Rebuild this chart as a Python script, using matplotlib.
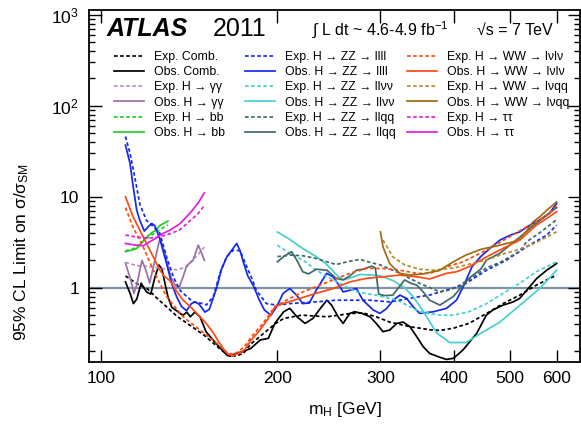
import math
import matplotlib
matplotlib.use("Agg")
import matplotlib.pyplot as plt
from matplotlib.legend import Legend
from matplotlib.ticker import FixedLocator, NullLocator, LogLocator, FuncFormatter

plt.rcParams['font.family'] = ['Liberation Sans', 'DejaVu Sans']
plt.rcParams['mathtext.fontset'] = 'custom'
plt.rcParams['mathtext.rm'] = 'Liberation Sans'
plt.rcParams['mathtext.it'] = 'Liberation Sans:italic'
plt.rcParams['mathtext.bf'] = 'Liberation Sans:bold'
plt.rcParams['lines.scale_dashes'] = False

# ---------------- data (mH in GeV, 95% CL limit on sigma/sigma_SM) -------------
comb_obs_m = [110,112,113.5,115,117,119.5,121.5,123.5,125.5,127,128.5,130,132,134.5,136.5,138,140,142,144.5,147.5,
              151,155,160,164,166,170,175,180,187,193,198,205,210,216,223,230,238,243,247.5,254,
              259,266,271,279,288,295,303,311,320,328,337,346,355,364,379,389,400,415,438,455,
              467,486,506,519,540,555,577,600]
comb_obs_v = [1.16,0.87,0.67,0.75,1.12,0.9,0.85,1.3,1.78,1.6,1.12,0.8,0.61,0.56,0.52,0.5,0.54,0.48,0.54,0.48,
              0.33,0.27,0.215,0.182,0.177,0.19,0.2,0.215,0.267,0.278,0.406,0.545,0.594,0.48,0.406,0.46,0.618,0.73,0.645,0.48,
              0.406,0.523,0.545,0.523,0.48,0.406,0.329,0.343,0.406,0.42,0.373,0.29,0.225,0.19,0.172,0.163,0.168,0.207,0.315,0.5,
              0.57,0.645,0.70,0.765,1.03,1.27,1.56,1.85]
comb_exp_m = [110,113,116,120,125,130,135,140,145,150,155,160,165,170,175,180,190,198,205,220,243,266,280,295,311,337,
              350,365,380,400,425,455,486,519,554,600]
comb_exp_v = [1.35,1.2,1.08,0.97,0.75,0.6,0.48,0.41,0.35,0.3,0.25,0.21,0.18,0.178,0.19,0.24,0.32,0.40,0.46,0.50,0.48,0.52,
              0.53,0.48,0.42,0.373,0.36,0.345,0.34,0.36,0.406,0.52,0.67,0.83,1.07,1.38]

gg_obs_m = [110,112.4,113.7,115,117.4,119.2,121,123.5,126,128.5,131.5,134,136,138,140,143.5,146.5,148.5,150]
gg_obs_v = [1.87,1.2,0.87,1.07,2.0,1.56,1.13,2.0,3.5,2.35,1.31,1.05,1.03,1.32,1.75,2.0,2.94,2.4,2.0]
gg_exp_m = [110,115,120,125,130,135,140,143.6,147,150]
gg_exp_v = [1.9,1.75,1.72,1.65,1.6,1.58,1.7,2.05,2.4,2.8]

bb_obs_m = [110,113,115,117,119,121.5,124,126,130]
bb_obs_v = [2.5,2.6,2.7,3.1,3.5,3.95,4.3,4.85,5.4]
bb_exp_m = [110,113,116,119,122,125,130]
bb_exp_v = [2.55,2.65,2.95,3.4,3.8,4.2,4.9]

zz4l_obs_m = [110,112,113.4,115,116.4,118.5,120,122,123.5,126,129.3,131.9,134.5,137.2,139.9,142.6,144.6,147,150.4,153,
              157.5,160.5,164,168,170.4,172.7,175,178,182,186,190,195,199.4,204.6,210,215.7,221,226.7,233,242.7,
              249,255.7,259,266,273,280,291.6,299.3,307.3,315.4,323.8,332.4,341.2,350,369.4,389,404.6,415.5,430,444.7,
              461.5,480,500,519,540,561,583,600]
zz4l_obs_v = [37,23.3,12.9,7.1,5.5,4.2,4.6,5.1,4.8,3.4,1.85,1.12,0.80,0.62,0.56,0.67,0.70,0.66,0.54,0.58,
              1.0,1.6,2.2,2.71,3.07,2.55,1.9,1.35,1.05,0.75,0.57,0.50,0.62,0.87,0.98,0.83,0.67,0.68,0.94,1.44,
              1.32,1.03,0.90,0.94,0.98,0.73,0.57,0.523,0.59,0.73,0.83,0.765,0.62,0.523,0.545,0.594,0.73,1.03,1.70,2.19,
              2.71,3.34,3.79,4.12,4.88,5.54,6.57,8.45]
zz4l_exp_m = [110,112,114.2,116.4,119.5,122.7,125.9,129.3,132.8,136.3,140,143.6,147.5,151.4,155.4,159.6,163.8,168.2,172.7,177.3,
              181,184,191.5,199.4,210,233,252,273,288,311,337,350,364,379,415.5,455.5,493,533,577,600]
zz4l_exp_v = [46,30,16,8.3,5.5,4.7,4.0,2.19,1.32,0.94,0.80,0.70,0.68,0.65,0.80,1.45,2.19,2.6,2.55,1.70,
              1.25,0.94,0.67,0.645,0.67,0.70,0.73,0.73,0.73,0.70,0.765,0.80,0.83,0.90,1.07,1.56,2.02,2.82,3.79,4.88]

llvv_obs_m = [200,210,221,233,243,252,259,268,277,290,300,315,330,341,352,362,374,394,420,445,480,519,561,600]
llvv_obs_v = [4.1,3.4,2.7,2.2,1.8,1.4,1.22,1.3,1.4,1.38,1.35,1.2,1.0,0.8,0.6,0.45,0.32,0.25,0.25,0.315,0.42,0.64,0.98,1.56]
llvv_exp_m = [200,210,221,233,246,259,273,295,320,337,350,379,400,425,455.5,486,519,554,600]
llvv_exp_v = [2.94,2.39,2.02,1.56,1.27,1.07,0.90,0.83,0.73,0.62,0.545,0.50,0.50,0.545,0.67,0.87,1.12,1.5,1.93]

llqq_obs_m = [200,205,211.5,216,221,226,233,243,252,259,266,273,280,290,294,298,305,315,322,330,
              338,346,355,364,379,399.5,425,445,455.5,480,519,547,577,600]
llqq_obs_v = [1.93,2.2,2.49,2.0,1.5,1.42,1.6,1.56,1.27,1.22,1.35,1.56,1.6,1.73,1.65,0.85,0.82,0.83,1.0,1.22,
              1.12,1.07,0.9,0.73,0.645,0.80,1.27,1.6,2.02,2.4,3.6,4.8,6.3,7.6]
llqq_exp_m = [200,210,221,233,245,252,265,277,288,300,324,350,379,395,410,430,455,480,500,519,533,561,600]
llqq_exp_v = [2.2,2.29,2.25,2.1,1.9,1.8,1.95,2.05,1.9,1.78,1.44,1.12,0.90,0.95,1.07,1.3,1.65,1.9,2.2,2.5,3.2,4.0,5.6]

lvlv_obs_m = [110,113.4,116.4,119.5,122.7,125.9,128,131,134,138,142,147.5,151.4,155.4,159,162,165,168,172,176,
              179.4,186.7,194,198,204.6,218.5,233,249,266,284,303,324,346,364,389,404.6,425,455.5,486,519,554,577,600]
lvlv_obs_v = [10,6.0,4.3,3.07,2.19,1.57,1.35,1.2,0.95,0.73,0.62,0.48,0.40,0.32,0.25,0.21,0.185,0.18,0.19,0.21,
              0.255,0.343,0.48,0.62,0.67,0.765,0.87,0.98,1.16,1.27,1.32,1.38,1.32,1.25,1.44,1.50,1.70,2.19,2.71,3.34,4.88,5.79,6.85]
lvlv_exp_m = [110,113.4,118,122.7,129.3,138,147.5,157.6,163.8,168,172,177,179,183,189,198,204.6,218.5,233,249,
              266,284,303,324,346,364,379,389,415.5,455.5,493,533,561,591,600]
lvlv_exp_v = [7.6,4.6,2.8,1.57,0.80,0.48,0.343,0.245,0.195,0.185,0.2,0.24,0.267,0.32,0.406,0.62,0.70,0.87,1.03,1.22,
              1.44,1.63,1.63,1.56,1.44,1.44,1.56,1.70,1.93,2.6,3.49,4.67,5.54,7.1,7.9]

lvqq_obs_m = [300,303,311,318,324,337,355,379,399.5,420,445,480,506,519,533,547,561,580,600]
lvqq_obs_v = [4.12,2.82,1.85,1.6,1.44,1.38,1.42,1.56,1.93,2.29,2.64,2.94,3.20,3.49,4.2,5.3,6.0,7.3,8.8]
lvqq_exp_m = [303,315,330,350,369,400,430,455,486,519,554,600]
lvqq_exp_v = [3.34,2.19,1.78,1.6,1.56,1.65,1.85,2.02,2.35,2.65,3.15,4.12]

tt_obs_m = [110,114,118,121,124,127,131,136,141.8,146.5,150]
tt_obs_v = [3.07,2.95,2.9,3.2,3.5,3.9,4.3,5.0,6.6,8.6,11.0]
tt_exp_m = [110,115,120,125,130,136,142,146,150]
tt_exp_v = [3.8,3.6,3.5,3.6,3.85,4.3,5.5,6.4,8.0]

x_ticks = [100, 200, 300, 400, 500, 600]

# ---------------- styling ------------------------------------------------------
DASH = (0, (2.6, 1.8))
LW = 1.25
C_BLACK = 'black'
C_GG_E, C_GG_O = '#b98dc4', '#9a72a6'
C_BB = '#22cc22'
C_4L = '#1428f0'
C_LLVV = '#45d0d0'
C_LLQQ = '#3f6a6a'
C_LVLV = '#ff4a14'
C_LVQQ_E, C_LVQQ_O = '#b88a2a', '#a06c10'
C_TT = '#e020e0'

col1 = [
    ("Exp. Comb.", comb_exp_m, comb_exp_v, C_BLACK, DASH),
    ("Obs. Comb.", comb_obs_m, comb_obs_v, C_BLACK, '-'),
    ("Exp. H → γγ", gg_exp_m, gg_exp_v, C_GG_E, DASH),
    ("Obs. H → γγ", gg_obs_m, gg_obs_v, C_GG_O, '-'),
    ("Exp. H → bb", bb_exp_m, bb_exp_v, C_BB, DASH),
    ("Obs. H → bb", bb_obs_m, bb_obs_v, C_BB, '-'),
]
col2 = [
    ("Exp. H → ZZ → llll", zz4l_exp_m, zz4l_exp_v, C_4L, DASH),
    ("Obs. H → ZZ → llll", zz4l_obs_m, zz4l_obs_v, C_4L, '-'),
    ("Exp. H → ZZ → llνν", llvv_exp_m, llvv_exp_v, C_LLVV, DASH),
    ("Obs. H → ZZ → llνν", llvv_obs_m, llvv_obs_v, C_LLVV, '-'),
    ("Exp. H → ZZ → llqq", llqq_exp_m, llqq_exp_v, C_LLQQ, DASH),
    ("Obs. H → ZZ → llqq", llqq_obs_m, llqq_obs_v, C_LLQQ, '-'),
]
col3 = [
    ("Exp. H → WW → lνlν", lvlv_exp_m, lvlv_exp_v, C_LVLV, DASH),
    ("Obs. H → WW → lνlν", lvlv_obs_m, lvlv_obs_v, C_LVLV, '-'),
    ("Exp. H → WW → lνqq", lvqq_exp_m, lvqq_exp_v, C_LVQQ_E, DASH),
    ("Obs. H → WW → lνqq", lvqq_obs_m, lvqq_obs_v, C_LVQQ_O, '-'),
    ("Exp. H → ττ", tt_exp_m, tt_exp_v, C_TT, DASH),
    ("Obs. H → ττ", tt_obs_m, tt_obs_v, C_TT, '-'),
]

fig = plt.figure(figsize=(5.81, 4.29), dpi=100)
ax = fig.add_axes([0.1527, 0.1569, 0.8464, 0.8198])
ax.set_xscale('log')
ax.set_yscale('log')
ax.set_xlim(95.2, 659)
ax.set_ylim(0.154, 1130)

ax.axhline(1.0, color='#8092a4', lw=1.6, zorder=1)

handles_cols = []
labels_cols = []
for col in (col1, col2, col3):
    hs, ls_ = [], []
    for label, m, v, c, ls in col:
        ln, = ax.plot(m, v, color=c, linestyle=ls, lw=LW, zorder=3)
        hs.append(ln)
        ls_.append(label)
    handles_cols.append(hs)
    labels_cols.append(ls_)

leg_x = [0.0514, 0.318, 0.647]
for i, hs in enumerate(handles_cols):
    lg = Legend(ax, hs, labels_cols[i], loc='upper left', bbox_to_anchor=(leg_x[i], 0.883),
                frameon=False, fontsize=8.8, handlelength=2.45, handletextpad=0.8,
                labelspacing=0.26, borderpad=0, borderaxespad=0)
    ax.add_artist(lg)

# axes formatting
ax.xaxis.set_major_locator(FixedLocator(x_ticks))
ax.xaxis.set_minor_locator(NullLocator())
ax.xaxis.set_major_formatter(FuncFormatter(lambda x, p: f"{int(round(x))}"))
ax.yaxis.set_major_locator(LogLocator(base=10, numticks=10))
ax.yaxis.set_minor_locator(LogLocator(base=10, subs=range(2, 10), numticks=20))

def yfmt(y, p):
    if abs(y - 1) < 1e-9:
        return "1"
    if abs(y - 10) < 1e-9:
        return "10"
    e = int(round(math.log10(y)))
    return r"$10^{%d}$" % e
ax.yaxis.set_major_formatter(FuncFormatter(yfmt))

ax.tick_params(which='both', direction='in', top=True, right=True, width=1.0)
ax.tick_params(which='major', length=9, labelsize=12.5, pad=7)
ax.tick_params(which='minor', length=4.5)
for s in ax.spines.values():
    s.set_linewidth(1.3)

ax.set_xlabel(r"m$_\mathrm{H}$ [GeV]", fontsize=12.5)
ax.xaxis.set_label_coords(0.521, -0.137)
ax.xaxis.label.set_va('center')
ax.set_ylabel("95% CL Limit on σ/σ$_\mathrm{SM}$", fontsize=12.5)
ax.yaxis.set_label_coords(-0.1356, 0.312)
ax.yaxis.label.set_va('center')

ax.text(0.0372, 0.926, "ATLAS", transform=ax.transAxes, fontsize=18,
        fontweight='bold', fontstyle='italic', va='baseline', ha='left')
ax.text(0.253, 0.926, "2011", transform=ax.transAxes, fontsize=18, va='baseline', ha='left')
ax.text(0.454, 0.929, "∫ L dt ~ 4.6-4.9 fb$^{-1}$", transform=ax.transAxes, fontsize=11.5,
        va='baseline', ha='left')
ax.text(0.790, 0.929, "√s = 7 TeV", transform=ax.transAxes, fontsize=11.5, va='baseline', ha='left')

fig.savefig("out.png", dpi=100)
